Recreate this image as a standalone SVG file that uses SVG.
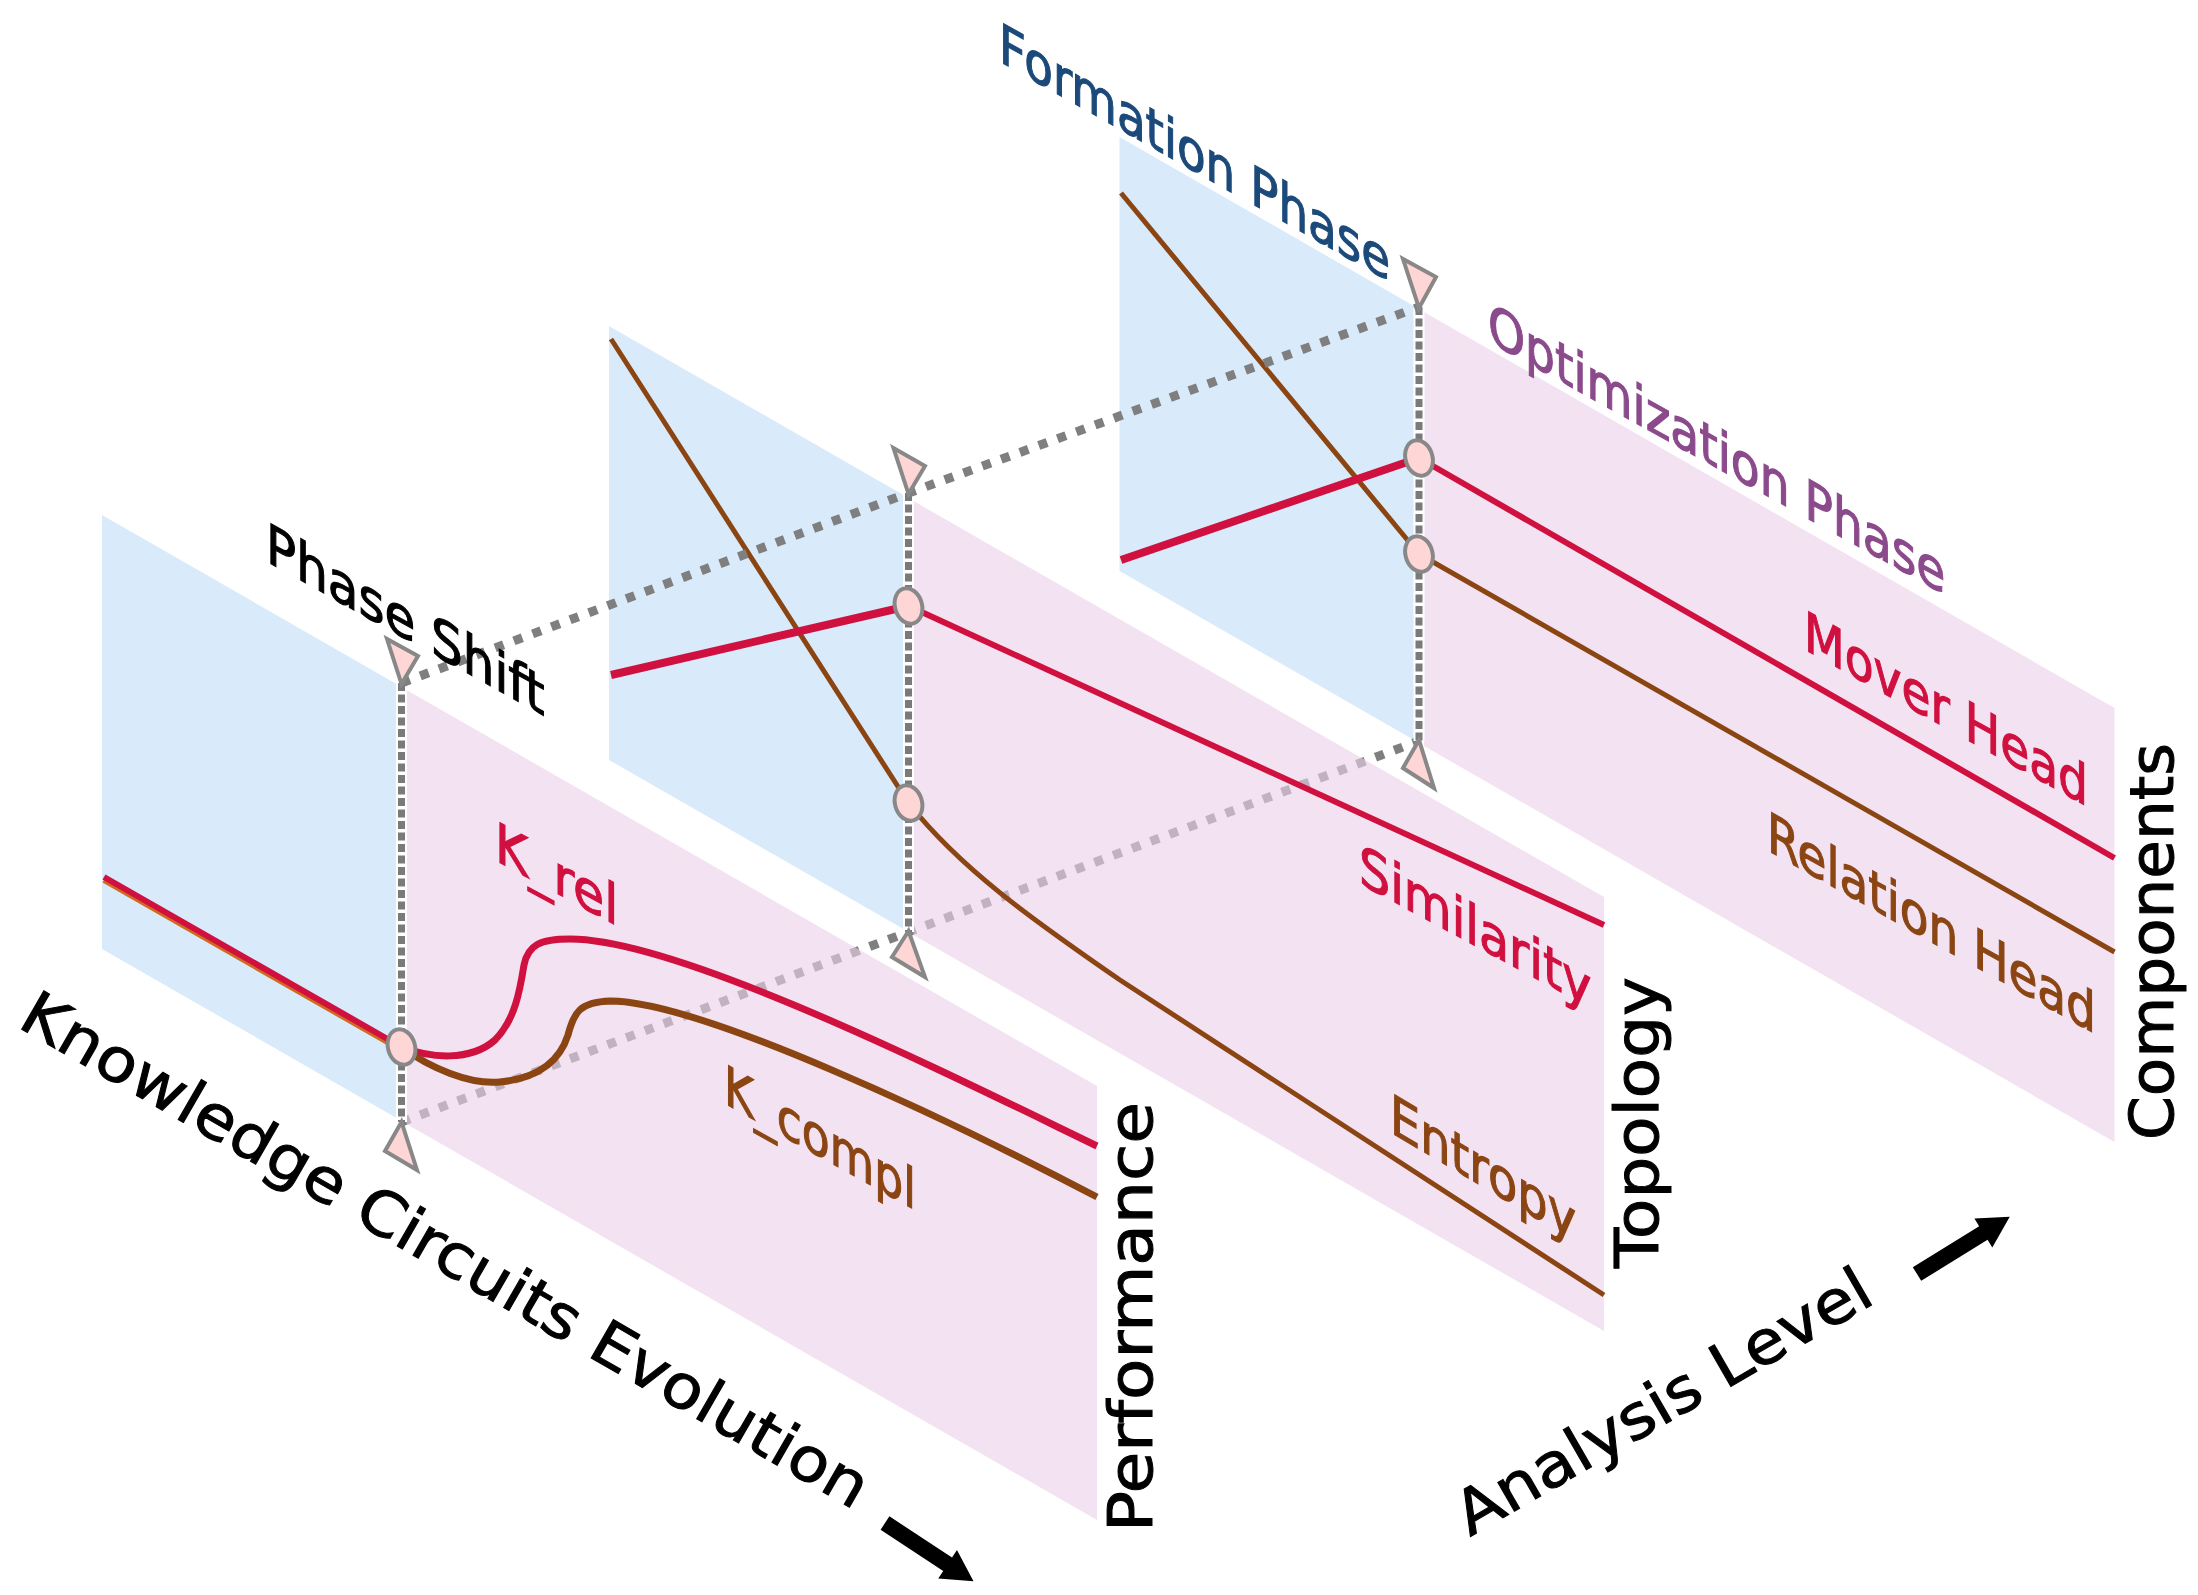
<svg xmlns="http://www.w3.org/2000/svg" width="2198" height="1595" viewBox="0 0 2198 1595">
<style>
.blue{fill:#d9ebfb}
.pink{fill:#ecd0ea;fill-opacity:0.62}
.red{stroke:#d0103f;fill:none;stroke-linecap:butt}
.brown{stroke:#8b4513;fill:none;stroke-linecap:butt}
.divw{stroke:#ffffff;stroke-width:11}
.divd{stroke:#7a7a7a;stroke-width:7;stroke-dasharray:8 3.5}
.conn{stroke:#7f7f7f;stroke-width:9;stroke-dasharray:9 11;fill:none}
.node{fill:#ffd6d6;stroke:#888888;stroke-width:4}
.tri{fill:#ffd6d6;stroke:#888888;stroke-width:4;stroke-linejoin:miter}
text{font-family:"DejaVu Sans",sans-serif;}
.lbl{font-size:55px;stroke-width:1.2}
.big{font-size:61px;fill:#000;stroke:#000;stroke-width:1}
</style>
<rect width="2198" height="1595" fill="#ffffff"/>
<g id="panels-blue">
<polygon class="blue" points="102,515 396.5,684 396.5,1118 102,949"/>
<polygon class="blue" points="609,326 903.5,495 903.5,929 609,760"/>
<polygon class="blue" points="1119.5,137 1414,306 1414,740 1119.5,571"/>
</g>
<g id="connector-bottom">
<polyline class="conn" points="401.5,1122 908.5,932 1419,741"/>
</g>
<g id="panels-pink">
<polygon class="pink" points="406.5,690 1097,1086 1097,1520 406.5,1124"/>
<polygon class="pink" points="913.5,501 1604,897 1604,1331 913.5,935"/>
<polygon class="pink" points="1424,312 2114.5,708 2114.5,1142 1424,746"/>
</g>
<g id="curves">
<line x1="104" y1="880" x2="401.5" y2="1050" stroke="#d2691e" stroke-width="6"/>
<line class="red" x1="104" y1="877" x2="401.5" y2="1047" stroke-width="6"/>
<path class="red" stroke-width="7" d="M401.5,1047 C430,1058 470,1062 495,1040 C515,1020 520,990 524,965 C528,945 540,939 570,939 C680,939 950,1075 1097,1146"/>
<path class="brown" stroke-width="7" d="M401.5,1047 C430,1068 470,1085 500,1082 C540,1078 560,1060 568,1035 C574,1012 580,1002 610,1001 C700,1001 950,1120 1097,1197"/>
<line class="brown" x1="611" y1="339" x2="908.5" y2="803" stroke-width="5"/>
<line class="red" x1="611" y1="675" x2="908.5" y2="606" stroke-width="8"/>
<line class="red" x1="908.5" y1="606" x2="1604" y2="925" stroke-width="6"/>
<path class="brown" stroke-width="5" d="M908.5,803 C960,868 1030,918 1120,980 L1604,1295"/>
<line class="brown" x1="1121" y1="193" x2="1419" y2="554" stroke-width="5"/>
<line class="red" x1="1121" y1="560" x2="1419" y2="458" stroke-width="8"/>
<line class="red" x1="1419" y1="458" x2="2114.5" y2="858" stroke-width="6"/>
<line class="brown" x1="1419" y1="554" x2="2114.5" y2="952" stroke-width="5"/>
</g>
<g id="connectors">
<line class="divw" x1="401.5" y1="683" x2="401.5" y2="1122"/>
<line class="divd" x1="401.5" y1="683" x2="401.5" y2="1122"/>
<line class="divw" x1="908.5" y1="493" x2="908.5" y2="932"/>
<line class="divd" x1="908.5" y1="493" x2="908.5" y2="932"/>
<line class="divw" x1="1419" y1="307" x2="1419" y2="741"/>
<line class="divd" x1="1419" y1="307" x2="1419" y2="741"/>
<polyline class="conn" points="401.5,683 908.5,493 1419,307"/>
<polygon class="tri" points="401.5,684 387,639 418,656"/>
<polygon class="tri" points="908.5,494 893.5,448 925,466"/>
<polygon class="tri" points="1419,308 1403,259 1436,277"/>
<polygon class="tri" points="401.5,1122 385,1151 417,1170"/>
<polygon class="tri" points="908.5,931 892,957 925,977"/>
<polygon class="tri" points="1419,740 1403,768 1434,788"/>
</g>
<g id="node-p1"><ellipse class="node" cx="401.5" cy="1047" rx="13.5" ry="18" transform="rotate(-16 401.5 1047)"/></g>
<g id="node-p2-red"><ellipse class="node" cx="908.5" cy="606" rx="13.5" ry="18" transform="rotate(-16 908.5 606)"/></g>
<g id="node-p2-brown"><ellipse class="node" cx="908.5" cy="803" rx="13.5" ry="18" transform="rotate(-16 908.5 803)"/></g>
<g id="node-p3-red"><ellipse class="node" cx="1419" cy="458" rx="13.5" ry="18" transform="rotate(-16 1419 458)"/></g>
<g id="node-p3-brown"><ellipse class="node" cx="1419" cy="554" rx="13.5" ry="18" transform="rotate(-16 1419 554)"/></g>
<g id="labels">
<text class="lbl" fill="#000000" stroke="#000000" transform="matrix(0.8736,0.4866,0,1,266,561)" textLength="319" lengthAdjust="spacingAndGlyphs">Phase Shift</text>
<text class="lbl" fill="#1b4a7a" stroke="#1b4a7a" transform="matrix(0.8707,0.4918,0,1,999,61)" textLength="449" lengthAdjust="spacingAndGlyphs">Formation Phase</text>
<text class="lbl" fill="#8b4a8b" stroke="#8b4a8b" transform="matrix(0.8744,0.4853,0,1,1488,341)" textLength="523" lengthAdjust="spacingAndGlyphs">Optimization Phase</text>
<text class="lbl" fill="#d0103f" stroke="#d0103f" transform="matrix(0.8740,0.4859,0,1,1804,649)" textLength="325" lengthAdjust="spacingAndGlyphs">Mover Head</text>
<text class="lbl" fill="#8b4513" stroke="#8b4513" transform="matrix(0.8725,0.4886,0,1,1767,850)" textLength="377" lengthAdjust="spacingAndGlyphs">Relation Head</text>
<text class="lbl" fill="#d0103f" stroke="#d0103f" transform="matrix(0.8799,0.4752,0,1,1359,883)" textLength="264" lengthAdjust="spacingAndGlyphs">Similarity</text>
<text class="lbl" fill="#8b4513" stroke="#8b4513" transform="matrix(0.8613,0.5082,0,1,1390,1132)" textLength="216" lengthAdjust="spacingAndGlyphs">Entropy</text>
<text class="lbl" fill="#d0103f" stroke="#d0103f" transform="matrix(0.8799,0.4752,0,1,495,860)" textLength="140" lengthAdjust="spacingAndGlyphs">K_rel</text>
<text class="lbl" fill="#8b4513" stroke="#8b4513" transform="matrix(0.8725,0.4886,0,1,724,1103)" textLength="220" lengthAdjust="spacingAndGlyphs">K_compl</text>
<text class="big" transform="translate(1152,1532) rotate(-90)" textLength="430" lengthAdjust="spacingAndGlyphs">Performance</text>
<text class="big" transform="translate(1658,1268) rotate(-90)" textLength="291" lengthAdjust="spacingAndGlyphs">Topology</text>
<text class="big" transform="translate(2173,1140) rotate(-90)" textLength="397" lengthAdjust="spacingAndGlyphs">Components</text>
<text class="big" transform="translate(16,1026) rotate(30)" textLength="968" lengthAdjust="spacingAndGlyphs">Knowledge Circuits Evolution</text>
<text class="big" transform="translate(1470,1537) rotate(-30)" textLength="470" lengthAdjust="spacingAndGlyphs">Analysis Level</text>
</g>
<g id="axis-arrows">
<polygon fill="#000" points="0,-8 75,-8 75,-17 106,0 75,17 75,8 0,8" transform="translate(885,1523) rotate(33.4)"/>
<polygon fill="#000" points="0,-8 78,-8 78,-17 109,0 78,17 78,8 0,8" transform="translate(1917,1274) rotate(-31.7)"/>
</g>
</svg>
